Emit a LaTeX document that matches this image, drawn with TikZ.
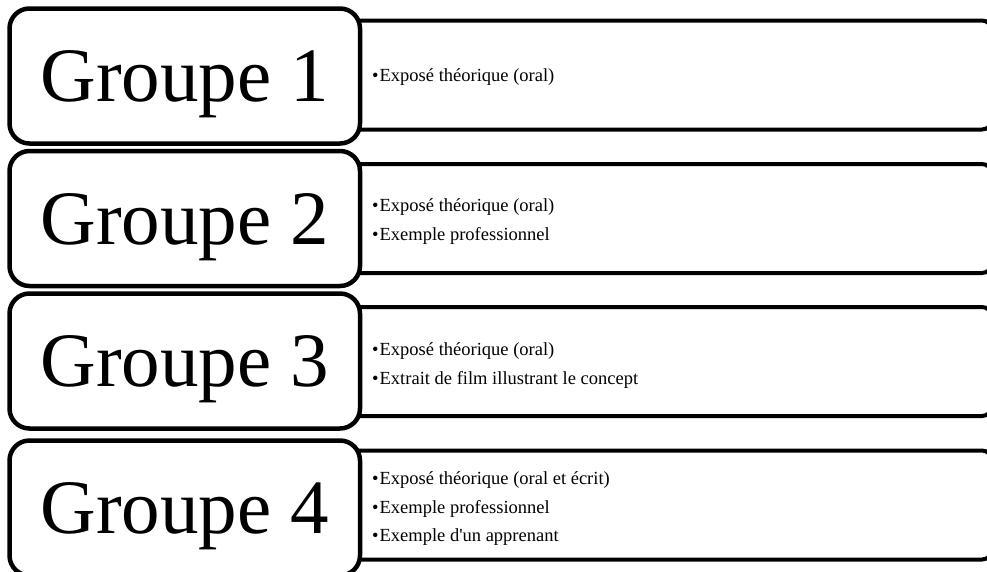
\documentclass[tikz,border=0pt]{standalone}
\usepackage{fontspec}
\setmainfont{Liberation Serif}[Ligatures=TeXOff]
\usetikzlibrary{positioning}

\tikzset{
	groupbox/.style={rectangle,draw,line width=4.5pt,rounded corners=20pt,fill=white,
		inner sep=0pt,minimum width=350.5pt,minimum height=135pt,
		text height=51pt,text depth=0pt,font=\fontsize{77}{80}\selectfont},
	detailbox/.style={rectangle,draw,line width=4pt,rounded corners=10pt,
		inner sep=0pt,minimum width=692pt,minimum height=109pt},
	detailtext/.style={anchor=west,align=left,inner sep=0pt,font=\fontsize{18.5}{28.5}\selectfont}
}

\begin{document}
\begin{tikzpicture}[x=1pt,y=-1pt]
		\useasboundingbox (0,0) rectangle (987,571);
		\clip (0,0) rectangle (987,571);
%		\draw[help lines] (0,0) grid (987,571);
		\path (646,75) coordinate (det1);
		\path (646,218.5) coordinate (det2);
		\path (646,361.5) coordinate (det3);
		\path (646,505) coordinate (det4);
		\path (184.75,76) coordinate (grp1);
		\path (184.75,218.5) coordinate (grp2);
		\path (184.75,361) coordinate (grp3);
		\path (184.75,508) coordinate (grp4);
		\path (372,77) coordinate (txt1);
		\path (372,221.5) coordinate (txt2);
		\path (372,365.5) coordinate (txt3);
		\path (372,509) coordinate (txt4);

		\node[detailbox] (d1) at (det1) {};
		\node[detailbox] (d2) at (det2) {};
		\node[detailbox] (d3) at (det3) {};
		\node[detailbox] (d4) at (det4) {};

		\node[groupbox] (g1) at (grp1) {Groupe 1};
		\node[groupbox] (g2) at (grp2) {Groupe 2};
		\node[groupbox] (g3) at (grp3) {Groupe 3};
		\node[groupbox] (g4) at (grp4) {Groupe 4};

		\node[detailtext] (t1) at (txt1) {•\hspace{1pt}Exposé théorique (oral)};
		\node[detailtext] (t2) at (txt2) {•\hspace{1pt}Exposé théorique (oral)\\
			•\hspace{1pt}Exemple professionnel};
		\node[detailtext] (t3) at (txt3) {•\hspace{1pt}Exposé théorique (oral)\\
			•\hspace{1pt}Extrait de film illustrant le concept};
		\node[detailtext] (t4) at (txt4) {•\hspace{1pt}Exposé théorique (oral et écrit)\\
			•\hspace{1pt}Exemple professionnel\\
			•\hspace{1pt}Exemple d'un apprenant};
	\end{tikzpicture}
\end{document}
